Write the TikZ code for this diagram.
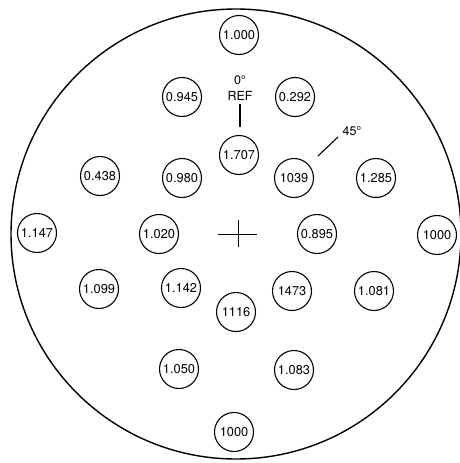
\documentclass[tikz,border=0pt]{standalone}
\usepackage{fontspec}
\setmainfont{TeX Gyre Heros}
\begin{document}
\begin{tikzpicture}[x=1pt,y=-1pt,
  val/.style={circle,draw,line width=1.1pt,minimum size=39pt,inner sep=0pt,font=\fontsize{12.8}{13}\selectfont},
  lbl/.style={inner sep=0pt,font=\fontsize{12.5}{12}\selectfont,align=center},
  thin line/.style={line width=1.1pt}]
\useasboundingbox (0,0) rectangle (460,463);
\fill[white] (0,0) rectangle (460,463);
\draw[line width=1.4pt] (236,234) circle (225);
% measurement points
\node[val] (t1) at (239,35) {1.000};
\node[val] (a1) at (182,97) {0.945};
\node[val] (a2) at (295,97) {0.292};
\node[val] (b0) at (239,155) {1.707};
\node[val] (b1) at (100,176) {0.438};
\node[val] (b2) at (182,178) {0.980};
\node[val] (b3) at (294,178) {1039};
\node[val] (b4) at (376,178) {1.285};
\node[val] (c1) at (37,233) {1.147};
\node[val] (c2) at (159,234) {1.020};
\node[val] (c3) at (317,234) {0.895};
\node[val] (c4) at (437,235) {1000};
\node[val] (d1) at (99,289) {1.099};
\node[val] (d2) at (181,288) {1.142};
\node[val] (d3) at (292,291) {1473};
\node[val] (d4) at (374,291) {1.081};
\node[val] (d0) at (236,312) {1116};
\node[val] (e1) at (179,369) {1.050};
\node[val] (e2) at (294,370) {1.083};
\node[val] (bt) at (234,432) {1000};
% reference labels
\node[lbl] (zero) at (240,80.5) {0°};
\node[lbl] (ref) at (240,96) {REF};
\coordinate (refa) at (240,104);
\coordinate (refb) at (240,127);
\draw[thin line] (refa) -- (refb);
\node[lbl] (deg) at (352,131) {45°};
\coordinate (dga) at (338,137);
\coordinate (dgb) at (318,156);
\draw[thin line] (dga) -- (dgb);
% center cross
\coordinate (ctr) at (238,234);
\draw[line width=0.8pt] ([xshift=-20pt]ctr) -- ([xshift=19pt]ctr);
\draw[line width=0.8pt] ([yshift=-13pt]ctr) -- ([yshift=14pt]ctr);
\end{tikzpicture}
\end{document}
